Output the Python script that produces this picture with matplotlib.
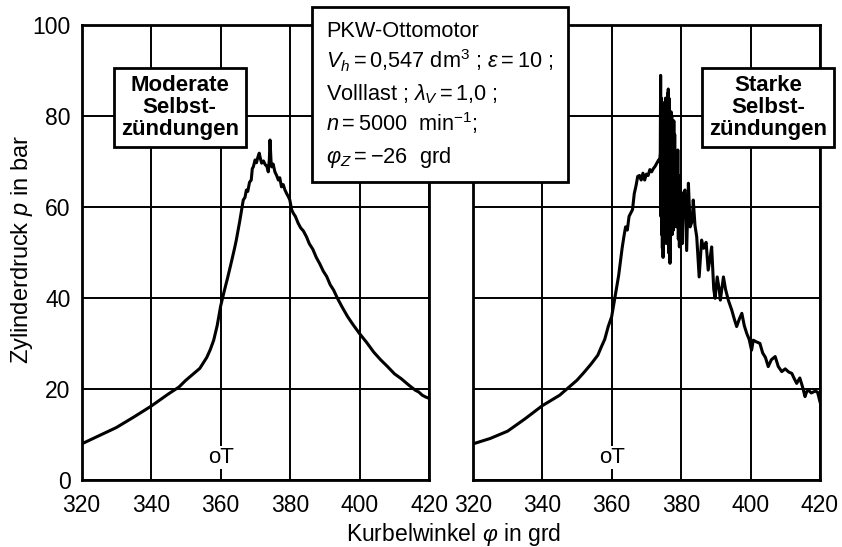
import matplotlib.pyplot as plt
from matplotlib.patches import Rectangle

plt.rcParams['font.family'] = 'Liberation Sans'
plt.rcParams['mathtext.fontset'] = 'custom'
plt.rcParams['mathtext.rm'] = 'Liberation Sans'
plt.rcParams['mathtext.it'] = 'Liberation Sans:italic'

# Moderate Selbstzuendungen (links)
phi_mod = [320, 325, 330, 335, 340, 345, 348, 350, 352, 354, 356, 357, 358, 359,
           360, 361, 362, 363, 364, 364.5, 365.5, 366.5, 367, 367.4, 367.8, 368.3,
           368.8, 369.1, 369.4, 369.9, 370.3, 370.7, 371.1, 371.5, 371.8, 372.3,
           372.8, 373.3, 373.7, 374.0, 374.2, 374.5, 374.7, 375.1, 375.6, 376.1,
           376.6, 377.0, 377.5, 378.0, 378.5, 379.0, 379.5, 379.9, 380.4, 380.9,
           381.5, 382.3, 383.0, 383.8, 384.7, 385.5, 386.5, 387.5, 388.5, 389.5,
           390.5, 391.5, 392.5, 393.6, 395, 396.5, 398, 400, 402, 404, 406, 408,
           410, 412, 414, 416, 417, 418, 419, 420]
p_mod = [8.0, 9.8, 11.6, 13.9, 16.3, 19.0, 20.5, 22.0, 23.3, 24.6, 27.0, 28.7, 30.8, 34.0,
         38.3, 41.5, 44.5, 47.7, 51.0, 52.8, 57.0, 61.6, 62.2, 63.8, 63.5, 65.5,
         66.0, 68.5, 68.9, 70.4, 69.8, 71.0, 71.9, 70.5, 69.7, 70.2,
         69.4, 69.0, 67.8, 70.5, 74.8, 70.0, 68.9, 69.5, 67.8, 67.0,
         66.0, 66.5, 64.5, 65.0, 63.8, 63.0, 62.3, 61.6, 59.5, 58.7,
         58.0, 56.5, 55.5, 54.8, 53.5, 52.0, 50.8, 49.0, 47.6, 46.0,
         44.8, 43.0, 41.8, 40.0, 38.0, 36.0, 34.3, 32.2, 30.3, 28.2, 26.5, 25.0,
         23.4, 22.3, 21.0, 19.8, 19.4, 18.7, 18.3, 18.0]

# Starke Selbstzuendungen (rechts)
phi_st = [320, 325, 330, 335, 340, 345, 350, 352, 354, 356, 357, 358, 359, 360, 361,
          362, 363, 363.5, 364, 364.5, 365, 366, 366.5, 367, 367.5, 368, 368.5, 369,
          369.5, 370, 370.5, 371, 371.5, 372, 372.5, 373, 373.5, 373.8,
          374.0, 374.1, 374.2, 374.3, 374.4, 374.5, 374.6, 374.7, 374.8, 374.9,
          375.0, 375.1, 375.2, 375.3, 375.4, 375.5, 375.6, 375.7, 375.8, 375.9,
          376.0, 376.1, 376.2, 376.3, 376.4, 376.5, 376.6, 376.7, 376.8, 376.9,
          377.0, 377.1, 377.2, 377.3, 377.4, 377.5, 377.6, 377.7, 377.8, 377.9,
          378.0, 378.15, 378.3, 378.45, 378.6, 378.75, 378.9, 379.05, 379.2, 379.35,
          379.5, 379.65, 379.8, 380.0,
          380.3, 380.6, 381.1, 381.6, 382.1, 382.6, 383.2, 383.5, 384.0, 384.5,
          385.2, 385.9, 386.5, 387.2, 387.8, 388.4, 388.8, 389.4, 389.8, 390.4,
          391.0, 391.3, 392.2, 392.8, 393.6, 394.6, 395.3, 396.0, 396.8, 397.5,
          398.2, 398.9, 399.6, 400.3, 400.8, 401.5, 402.7, 403.5, 404.3, 405.1,
          406.0, 407.1, 408.0, 409.0, 410.0, 411.0, 411.9, 412.5, 413.3, 414.2,
          415.0, 415.7, 416.2, 416.7, 417.5, 418.6, 419.3, 420.0]
p_st = [8.0, 9.2, 10.8, 13.5, 16.4, 18.7, 22.0, 23.7, 25.5, 27.5, 29.3, 31.0, 33.8, 36.0, 40.5,
        45.0, 51.0, 53.5, 55.7, 55.0, 58.0, 59.5, 63.0, 64.7, 66.8, 67.0, 66.0, 67.5,
        66.0, 67.3, 67.0, 68.3, 67.8, 68.5, 69.0, 69.7, 70.4, 70.0,
        72.0, 89.0, 58.0, 84.0, 54.0, 82.0, 51.0, 80.0, 49.0, 79.0,
        55.0, 83.0, 52.0, 81.0, 56.0, 84.0, 53.0, 78.0, 55.0, 82.0,
        52.0, 85.0, 57.0, 86.0, 50.0, 84.0, 54.0, 80.0, 47.7, 78.0,
        55.0, 81.0, 56.0, 80.0, 54.0, 79.0, 57.0, 77.0, 55.0, 79.0,
        58.0, 76.0, 56.0, 72.0, 55.7, 71.0, 57.0, 72.6, 53.0, 67.0,
        51.3, 63.0, 56.0, 63.0,
        52.0, 63.0, 63.8, 50.5, 65.3, 55.7, 57.0, 61.6, 56.0, 53.5,
        44.7, 52.8, 51.0, 52.3, 46.2, 49.1, 51.3, 42.0, 40.0, 44.7,
        41.8, 39.6, 44.7, 42.0, 39.6, 37.4, 35.5, 33.8, 35.5, 36.7,
        34.0, 32.3, 31.0, 28.6, 30.8, 30.5, 30.1, 28.0, 27.0, 25.0,
        26.5, 27.2, 25.0, 23.9, 24.5, 23.8, 23.5, 22.5, 21.3, 22.5,
        20.5, 18.4, 19.5, 19.8, 19.2, 19.6, 19.4, 17.3]

x_ticks = [320, 340, 360, 380, 400, 420]
y_ticks = [0, 20, 40, 60, 80, 100]

fig = plt.figure(figsize=(8.42, 5.47), dpi=100)
ax1 = fig.add_axes([0.0969, 0.1219, 0.4129, 0.8318])
ax2 = fig.add_axes([0.5616, 0.1219, 0.4122, 0.8318])

for ax, phi, p in [(ax1, phi_mod, p_mod), (ax2, phi_st, p_st)]:
    ax.plot(phi, p, color='black', lw=2.2, zorder=3)
    ax.set_xlim(320, 420)
    ax.set_ylim(0, 100)
    ax.set_xticks(x_ticks)
    ax.set_yticks(y_ticks)
    ax.grid(True, color='black', lw=1.4)
    ax.tick_params(length=0, labelsize=16.5)
    ax.tick_params(axis='x', pad=10)
    ax.tick_params(axis='y', pad=8)
    for s in ax.spines.values():
        s.set_linewidth(2.0)
    ax.text(360, 5.0, 'oT', fontsize=16, ha='center', va='center',
            bbox=dict(facecolor='white', edgecolor='none', pad=1), zorder=4)

ax2.set_yticklabels([])

ax1.text(348.2, 81.9, 'Moderate\nSelbst-\nzündungen', fontsize=16, fontweight='bold',
         ha='center', va='center', linespacing=1.08, zorder=5,
         bbox=dict(facecolor='white', edgecolor='black', lw=2.0, pad=5))
ax2.text(405, 81.9, 'Starke\nSelbst-\nzündungen', fontsize=16, fontweight='bold',
         ha='center', va='center', linespacing=1.08, zorder=5, clip_on=False,
         bbox=dict(facecolor='white', edgecolor='black', lw=2.0, pad=5))

# Infokasten
W, H = 842, 547
fig.patches.append(Rectangle((311.7 / W, 1 - 181.7 / H), (568.3 - 311.7) / W, (181.7 - 7.3) / H,
                             transform=fig.transFigure, facecolor='white', edgecolor='black',
                             lw=2.0, zorder=10))
lines = ['PKW-Ottomotor',
         r'$V_h = 0{,}547$ dm$^3$ ; $\varepsilon = 10$ ;',
         r'Volllast ; $\lambda_V = 1{,}0$ ;',
         r'$n = 5000$  min$^{-1}$;',
         r'$\varphi_Z = -26$  grd']
baselines = [37, 68.5, 100, 131.5, 163]
for txt, yb in zip(lines, baselines):
    fig.text(326 / W, 1 - yb / H, txt, fontsize=15.7, ha='left', va='baseline', zorder=11)

fig.text(22 / W, 1 - 250 / H, r'Zylinderdruck $p$ in bar', fontsize=17, rotation=90,
         ha='center', va='center')
fig.text(454 / W, 1 - 535 / H, r'Kurbelwinkel $\varphi$ in grd', fontsize=16.5,
         ha='center', va='center')

fig.savefig('out.png', dpi=100)
